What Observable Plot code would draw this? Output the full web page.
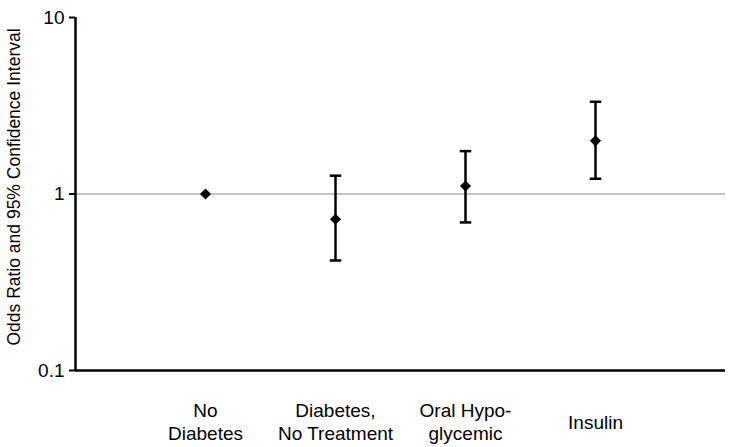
<!DOCTYPE html>
<html>
<head>
<meta charset="utf-8">
<script src="https://cdn.jsdelivr.net/npm/d3@7"></script>
<script src="https://cdn.jsdelivr.net/npm/@observablehq/plot@0.6"></script>
<style>
  html, body { margin: 0; padding: 0; background: #fff; }
  svg { font-family: "Liberation Sans", Arial, sans-serif; }
</style>
</head>
<body>
<div id="chart"></div>
<script>
const categories = ["No\nDiabetes", "Diabetes,\nNo Treatment", "Oral Hypo-\nglycemic", "Insulin"];
const positions = [1, 2, 3, 4];
const oddsRatio = [1.0, 0.72, 1.11, 2.0];
const lowerCI = [null, 0.42, 0.69, 1.22];
const upperCI = [null, 1.27, 1.75, 3.33];
const yTicks = [0.1, 1, 10];
const yTickLabels = ["0.1", "1", "10"];
const yLabel = "Odds Ratio and 95% Confidence Interval";

const data = categories.map((c, i) => ({
  label: c, pos: positions[i], or: oddsRatio[i], lo: lowerCI[i], hi: upperCI[i]
}));
const ciData = data.filter(d => d.lo != null);

const capSymbol = {
  draw(context, size) {
    const w = Math.sqrt(size) / 2;
    context.moveTo(-w, 0);
    context.lineTo(w, 0);
  }
};

const chart = Plot.plot({
  width: 732,
  height: 447,
  marginLeft: 75,
  marginRight: 7,
  marginTop: 17,
  marginBottom: 77,
  style: { fontFamily: "Liberation Sans, Arial, sans-serif", color: "#000", background: "#fff" },
  x: { type: "linear", domain: [0, 5], axis: null },
  y: { type: "log", domain: [0.1, 10], axis: null },
  marks: [
    Plot.ruleY([1], { stroke: "#888", strokeWidth: 1 }),
    Plot.axisY({
      ticks: yTicks,
      tickFormat: (d) => yTickLabels[yTicks.indexOf(d)],
      tickSize: 6,
      tickPadding: 5,
      fontSize: 19,
      stroke: "#000",
      strokeWidth: 2,
      label: null
    }),
    Plot.ruleX([0], { y1: 0.1, y2: 10, stroke: "#000", strokeWidth: 2.5 }),
    Plot.ruleY([0.1], { stroke: "#000", strokeWidth: 2.5 }),
    Plot.ruleX(ciData, { x: "pos", y1: "lo", y2: "hi", stroke: "#000", strokeWidth: 2.5 }),
    Plot.dot(ciData, { x: "pos", y: "lo", symbol: capSymbol, r: 6.5, stroke: "#000", strokeWidth: 2.5, fill: "none" }),
    Plot.dot(ciData, { x: "pos", y: "hi", symbol: capSymbol, r: 6.5, stroke: "#000", strokeWidth: 2.5, fill: "none" }),
    Plot.dot(data, { x: "pos", y: "or", symbol: "diamond2", r: 5, fill: "#000", stroke: "none" }),
    Plot.text(data, {
      x: "pos", text: "label", frameAnchor: "bottom", dy: 51,
      lineAnchor: "middle", lineHeight: 1.18, fontSize: 19, fill: "#000"
    }),
    Plot.text([yLabel], {
      frameAnchor: "left", textAnchor: "middle", rotate: -90, dx: -61, dy: -7, fontSize: 17.5, fill: "#000"
    })
  ]
});
document.getElementById("chart").appendChild(chart);
</script>
</body>
</html>
